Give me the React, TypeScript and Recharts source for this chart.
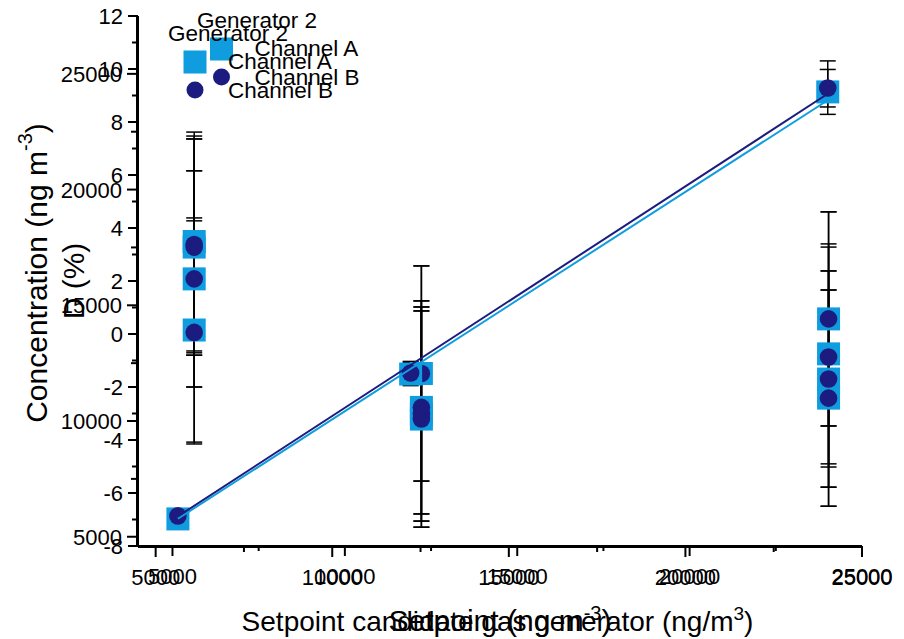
import React from "react";
import { ScatterChart, Scatter, XAxis, YAxis, ErrorBar } from "recharts";

const LIGHT = "#0f9ddf";
const NAVY = "#1c1b80";
const FONT = "'Liberation Sans', Arial, Helvetica, sans-serif";

// setpoints shared by both overlaid plots (ng/m3)
const setpoints = [5630, 12220, 24030];

// plot 1: concentration vs setpoint
const concA = [5770, 12030, 24220];
const concB = [5900, 12075, 24390];
const concErrA = [[300, 300], [500, 500], [970, 970]];
const concErrB = [[300, 300], [500, 500], [820, 1170]];
// fitted line end points [setpoint, concentration]
const fitA = [[5630, 5780], [24030, 23860]];
const fitB = [[5630, 5880], [24030, 24140]];

// plot 2: D (%) vs setpoint, 4 replicates per setpoint
const biasA = [
  [3.49, 3.28, 2.08, 0.15],
  [-1.49, -2.77, -3.02, -3.21],
  [0.57, -0.75, -1.7, -2.42],
];
const biasB = [
  [3.38, 3.28, 2.08, 0.06],
  [-1.49, -2.77, -3.02, -3.21],
  [0.57, -0.87, -1.7, -2.42],
];
const biasErrA = [
  [4.13, 4.08, 4.08, 4.23],
  [4.06, 4.02, 4.04, 4.08],
  [4.04, 4.15, 4.08, 4.08],
];
const biasErrB = [
  [4.09, 4.08, 4.08, 4.21],
  [4.06, 4.02, 4.04, 4.08],
  [4.04, 4.15, 4.08, 4.08],
];

// ticks
const xMajor = [5000, 10000, 15000, 20000, 25000];
const xMinor = [7500, 12500, 17500, 22500];
const concYMajor = [5000, 10000, 15000, 20000, 25000];
const concYMinor = [7500, 12500, 17500, 22500];
const biasYMajor = [-8, -6, -4, -2, 0, 2, 4, 6, 8, 10, 12];
const biasYMinor = [-7, -5, -3, -1, 1, 3, 5, 7, 9, 11];

const legendTitle = "Generator 2";
const legendItems = ["Channel A", "Channel B"];

const W = 904;
const H = 639;
// axes are 1px thick boxes, so the margins leave the plot at x 138..862, y 16..546
const M = { top: 16, right: 42, bottom: 91, left: 136 };

const concPts = (vals: number[], errs: number[][]) =>
  setpoints.map((x, i) => ({ x, y: vals[i], err: errs[i] }));
const biasPts = (vals: number[][], errs: number[][]) =>
  setpoints.flatMap((x, i) => vals[i].map((y, j) => ({ x, y, err: errs[i][j] })));
const linePts = (pts: number[][]) => pts.map(([x, y]) => ({ x, y }));

const Square = (p: any) => (
  <rect x={p.cx - 11.5} y={p.cy - 11.5} width={23} height={23} fill={LIGHT} />
);
const Dot = (p: any) => <circle cx={p.cx} cy={p.cy} r={8.8} fill={NAVY} />;
const NoShape = () => <g />;

const XTick = ({ x, y, payload, majors }: any) => {
  const major = majors.includes(payload.value);
  return (
    <g>
      <line x1={x} x2={x} y1={y} y2={y + (major ? 10 : 5)} stroke="#000" strokeWidth={2} />
      {major && (
        <text x={x} y={y + 38} textAnchor="middle" fontSize={22} fontFamily={FONT} fill="#000">
          {payload.value}
        </text>
      )}
    </g>
  );
};

const YTick = ({ x, y, payload, majors }: any) => {
  const major = majors.includes(payload.value);
  return (
    <g>
      <line x1={x - (major ? 10 : 6)} x2={x} y1={y} y2={y} stroke="#000" strokeWidth={2} />
      {major && (
        <text x={x - 15} y={y + 8} textAnchor="end" fontSize={22} fontFamily={FONT} fill="#000">
          {payload.value}
        </text>
      )}
    </g>
  );
};

const axisCommon = {
  type: "number" as const,
  interval: 0 as const,
  tickSize: 0,
  tickMargin: 0,
  tickLine: false,
  allowDataOverflow: true,
  axisLine: { stroke: "#000", strokeWidth: 2 },
};

const Legend = ({ x, y, tx }: { x: number; y: number; tx: number }) => (
  <g fontFamily={FONT} fontSize={22.5} fill="#000">
    <text x={tx} y={y + 8}>{legendTitle}</text>
    <rect x={x - 11.5} y={y + 29 - 11.5} width={23} height={23} fill={LIGHT} />
    <text x={x + 33} y={y + 36}>{legendItems[0]}</text>
    <circle cx={x} cy={y + 57} r={8.5} fill={NAVY} />
    <text x={x + 33} y={y + 65}>{legendItems[1]}</text>
  </g>
);

export default function App() {
  const cx = 138 + (862 - 138) / 2;
  const cy = 16 + (546 - 16) / 2;
  return (
    <div style={{ position: "absolute", left: 0, top: 0, width: W, height: H, background: "#fff" }}>
      <ScatterChart width={W} height={H} margin={M}>
        <XAxis
          xAxisId="conc"
          dataKey="x"
          domain={[4500, 25000]}
          ticks={[...xMajor, ...xMinor]}
          height={1}
          tick={(p: any) => <XTick {...p} majors={xMajor} />}
          {...axisCommon}
        />
        <XAxis
          xAxisId="bias"
          dataKey="x"
          domain={[4000, 25000]}
          ticks={[...xMajor, ...xMinor]}
          height={1}
          tick={(p: any) => <XTick {...p} majors={xMajor} />}
          {...axisCommon}
        />
        <YAxis
          yAxisId="conc"
          dataKey="y"
          domain={[4600, 27500]}
          ticks={[...concYMajor, ...concYMinor]}
          width={1}
          tick={(p: any) => <YTick {...p} majors={concYMajor} />}
          {...axisCommon}
        />
        <YAxis
          yAxisId="bias"
          dataKey="y"
          domain={[-8, 12]}
          ticks={[...biasYMajor, ...biasYMinor]}
          width={1}
          tick={(p: any) => <YTick {...p} majors={biasYMajor} />}
          {...axisCommon}
        />

        {/* markers */}
        <Scatter xAxisId="bias" yAxisId="bias" data={biasPts(biasA, biasErrA)} shape={Square} isAnimationActive={false} />
        <Scatter xAxisId="bias" yAxisId="bias" data={biasPts(biasB, biasErrB)} shape={Dot} isAnimationActive={false} />
        <Scatter xAxisId="conc" yAxisId="conc" data={concPts(concA, concErrA)} shape={Square} isAnimationActive={false} />
        <Scatter xAxisId="conc" yAxisId="conc" data={concPts(concB, concErrB)} shape={Dot} isAnimationActive={false} />

        {/* error bars drawn on top of the markers */}
        <Scatter xAxisId="bias" yAxisId="bias" data={biasPts(biasA, biasErrA)} shape={NoShape} isAnimationActive={false}>
          <ErrorBar dataKey="err" direction="y" width={8} stroke="#000" strokeWidth={1.5} isAnimationActive={false} />
        </Scatter>
        <Scatter xAxisId="bias" yAxisId="bias" data={biasPts(biasB, biasErrB)} shape={NoShape} isAnimationActive={false}>
          <ErrorBar dataKey="err" direction="y" width={8} stroke="#000" strokeWidth={1.5} isAnimationActive={false} />
        </Scatter>
        <Scatter xAxisId="conc" yAxisId="conc" data={concPts(concA, concErrA)} shape={NoShape} isAnimationActive={false}>
          <ErrorBar dataKey="err" direction="y" width={8} stroke="#000" strokeWidth={1.5} isAnimationActive={false} />
        </Scatter>
        <Scatter xAxisId="conc" yAxisId="conc" data={concPts(concB, concErrB)} shape={NoShape} isAnimationActive={false}>
          <ErrorBar dataKey="err" direction="y" width={8} stroke="#000" strokeWidth={1.5} isAnimationActive={false} />
        </Scatter>

        {/* fitted lines */}
        <Scatter xAxisId="conc" yAxisId="conc" data={linePts(fitA)} line={{ stroke: LIGHT, strokeWidth: 2 }} shape={NoShape} isAnimationActive={false} />
        <Scatter xAxisId="conc" yAxisId="conc" data={linePts(fitB)} line={{ stroke: NAVY, strokeWidth: 2 }} shape={NoShape} isAnimationActive={false} />
      </ScatterChart>

      <svg width={W} height={H} style={{ position: "absolute", left: 0, top: 0, pointerEvents: "none" }}>
        <Legend x={221.5} y={20} tx={197} />
        <Legend x={195} y={33} tx={168} />
        <g fontFamily={FONT} fill="#000">
          <text x={36} y={273} transform="rotate(-90 36 273)" textAnchor="middle" dominantBaseline="central" fontSize={30}>
            Concentration (ng m<tspan dy={-11} fontSize={20}>-3</tspan><tspan dy={11}>)</tspan>
          </text>
          <text x={73} y={cy} transform={`rotate(-90 73 ${cy})`} textAnchor="middle" dominantBaseline="central" fontSize={30}>
            D (%)
          </text>
          <text x={cx - 2.5} y={631} textAnchor="middle" fontSize={28}>
            Setpoint candidate gas generator (ng/m<tspan dy={-11} fontSize={19}>3</tspan><tspan dy={11}>)</tspan>
          </text>
          <text x={cx} y={631} textAnchor="middle" fontSize={30}>
            Setpoint (ng m<tspan dy={-11} fontSize={20}>-3</tspan><tspan dy={11}>)</tspan>
          </text>
        </g>
      </svg>
    </div>
  );
}
